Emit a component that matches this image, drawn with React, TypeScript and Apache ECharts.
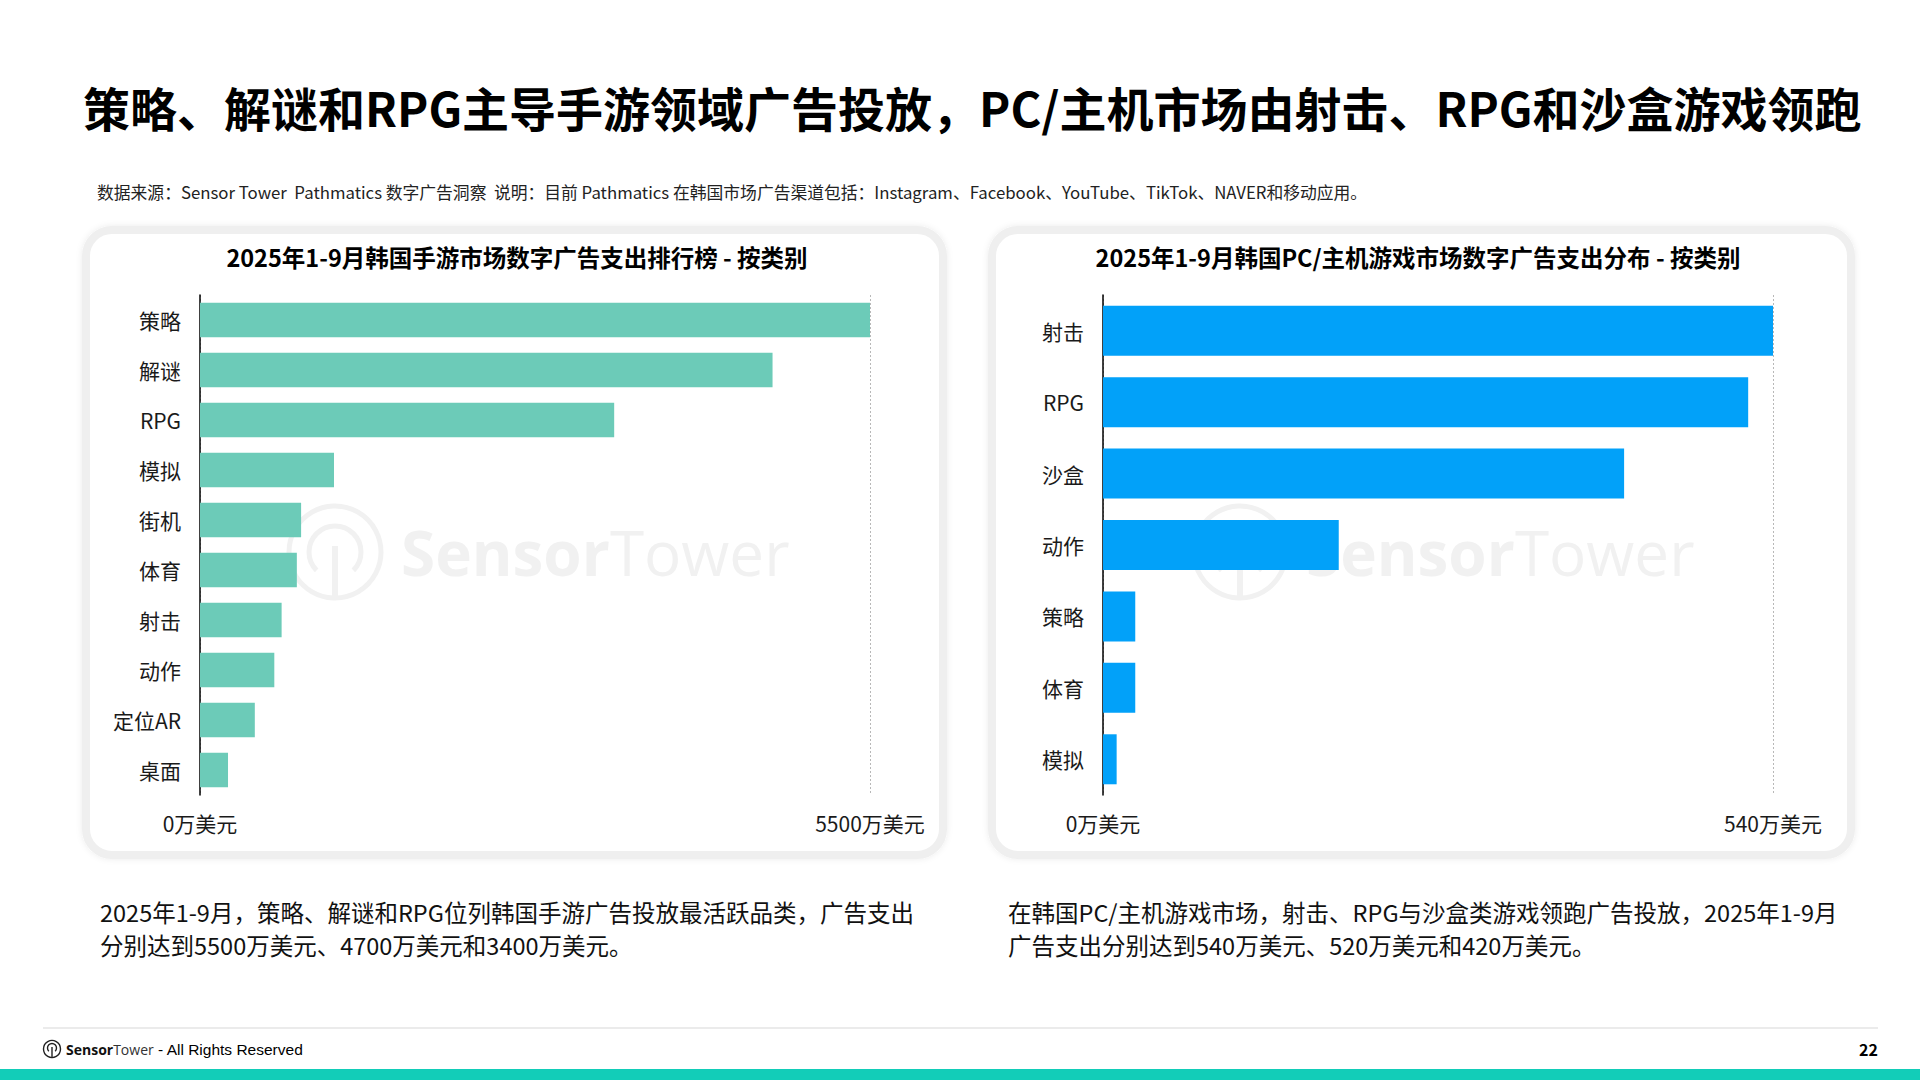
import React, { useEffect, useRef } from 'react';
import * as echarts from 'echarts';

const pageTitle = '策略、解谜和RPG主导手游领域广告投放，PC/主机市场由射击、RPG和沙盒游戏领跑';
const sourceNote = '数据来源：Sensor Tower  Pathmatics 数字广告洞察  说明：目前 Pathmatics 在韩国市场广告渠道包括：Instagram、Facebook、YouTube、TikTok、NAVER和移动应用。';

const mobileTitle = '2025年1-9月韩国手游市场数字广告支出排行榜 - 按类别';
const mobileCategories = ['策略', '解谜', 'RPG', '模拟', '街机', '体育', '射击', '动作', '定位AR', '桌面'];
const mobileValues = [5500, 4700, 3400, 1100, 830, 795, 670, 610, 450, 230];
const mobileMax = 5500;

const pcTitle = '2025年1-9月韩国PC/主机游戏市场数字广告支出分布 - 按类别';
const pcCategories = ['射击', 'RPG', '沙盒', '动作', '策略', '体育', '模拟'];
const pcValues = [540, 520, 420, 190, 26, 26, 11];
const pcMax = 540;

const unit = '万美元';

const mobileNote = [
  '2025年1-9月，策略、解谜和RPG位列韩国手游广告投放最活跃品类，广告支出',
  '分别达到5500万美元、4700万美元和3400万美元。',
];
const pcNote = [
  '在韩国PC/主机游戏市场，射击、RPG与沙盒类游戏领跑广告投放，2025年1-9月',
  '广告支出分别达到540万美元、520万美元和420万美元。',
];

const FONT = '"Noto Sans CJK SC", "Noto Sans", sans-serif';

function panel(x: number, w: number) {
  return {
    type: 'rect',
    z: 0,
    shape: { x, y: 230, width: w, height: 625, r: 26 },
    style: {
      fill: '#ffffff',
      stroke: '#efefef',
      lineWidth: 8,
      shadowBlur: 6,
      shadowColor: 'rgba(0,0,0,0.08)',
    },
  };
}

function watermark(cx: number, cy: number) {
  return [
    {
      type: 'circle',
      z: 1,
      shape: { cx, cy, r: 46 },
      style: { fill: 'none', stroke: '#f1f1f1', lineWidth: 5 },
    },
    {
      type: 'arc',
      z: 1,
      shape: { cx, cy, r: 26, startAngle: Math.PI * 0.75, endAngle: Math.PI * 2.25, clockwise: true },
      style: { fill: 'none', stroke: '#f1f1f1', lineWidth: 5 },
    },
    {
      type: 'line',
      z: 1,
      shape: { x1: cx, y1: cy - 6, x2: cx, y2: cy + 46 },
      style: { stroke: '#f1f1f1', lineWidth: 6 },
    },
    {
      type: 'text',
      z: 1,
      x: cx + 66,
      y: cy,
      style: {
        text: '{a|Sensor}{b|Tower}',
        verticalAlign: 'middle',
        rich: {
          a: { fontFamily: '"Open Sans", sans-serif', fontWeight: 'bold', fontSize: 62, fill: '#f1f1f1', color: '#f1f1f1' },
          b: { fontFamily: '"Open Sans", sans-serif', fontWeight: 'normal', fontSize: 62, fill: '#f1f1f1', color: '#f1f1f1' },
        },
      },
    },
  ];
}

function textEl(x: number, y: number, text: string, size: number, opts: any = {}) {
  return {
    type: 'text',
    z: 10,
    x,
    y,
    style: {
      text,
      fontFamily: FONT,
      fontSize: size,
      fill: opts.fill || '#111',
      fontWeight: opts.bold ? 'bold' : 'normal',
      align: opts.align || 'left',
      verticalAlign: 'middle',
    },
  };
}

function xAxisFor(gridIndex: number, max: number) {
  return {
    type: 'value',
    gridIndex,
    min: 0,
    max,
    interval: max,
    z: 5,
    axisLine: { show: false },
    axisTick: { show: false },
    splitLine: { show: true, lineStyle: { color: '#b8b8b8', type: [2, 2], width: 1 } },
    axisLabel: {
      formatter: (v: number) => v + unit,
      fontFamily: FONT,
      fontSize: 21,
      color: '#1a1a1a',
      margin: 17,
      showMinLabel: true,
      showMaxLabel: true,
    },
  };
}

function yAxisFor(gridIndex: number, data: string[]) {
  return {
    type: 'category',
    gridIndex,
    data,
    inverse: true,
    z: 5,
    axisLine: { show: true, lineStyle: { color: '#000', width: 1.5 } },
    axisTick: { show: false },
    splitLine: { show: false },
    axisLabel: { fontFamily: FONT, fontSize: 21, color: '#1a1a1a', margin: 19 },
  };
}

export default function App() {
  const ref = useRef<HTMLDivElement>(null);
  useEffect(() => {
    if (!ref.current) return;
    const chart = echarts.init(ref.current, undefined, { renderer: 'svg' });
    const graphics: any[] = [
      panel(86, 857),
      panel(992, 859),
      ...watermark(335, 552),
      ...watermark(1240, 552),
      textEl(83, 106, pageTitle, 47, { bold: true, fill: '#000' }),
      textEl(97, 192, sourceNote, 16.8, { fill: '#222' }),
      textEl(517, 257, mobileTitle, 23.5, { bold: true, align: 'center', fill: '#000' }),
      textEl(1418, 257, pcTitle, 23.5, { bold: true, align: 'center', fill: '#000' }),
      textEl(100, 912, mobileNote[0], 23.5, { fill: '#111' }),
      textEl(100, 945, mobileNote[1], 23.5, { fill: '#111' }),
      textEl(1008, 912, pcNote[0], 23.5, { fill: '#111' }),
      textEl(1008, 945, pcNote[1], 23.5, { fill: '#111' }),
      {
        type: 'line',
        z: 10,
        shape: { x1: 43, y1: 1028, x2: 1878, y2: 1028 },
        style: { stroke: '#ebebeb', lineWidth: 2 },
      },
      {
        type: 'circle',
        z: 10,
        shape: { cx: 52, cy: 1049, r: 8.5 },
        style: { fill: 'none', stroke: '#222', lineWidth: 1.4 },
      },
      {
        type: 'arc',
        z: 10,
        shape: { cx: 52, cy: 1048, r: 4.5, startAngle: Math.PI * 0.75, endAngle: Math.PI * 2.25, clockwise: true },
        style: { fill: 'none', stroke: '#222', lineWidth: 1.4 },
      },
      {
        type: 'line',
        z: 10,
        shape: { x1: 52, y1: 1047, x2: 52, y2: 1057 },
        style: { stroke: '#222', lineWidth: 1.4 },
      },
      {
        type: 'text',
        z: 10,
        x: 66,
        y: 1049,
        style: {
          text: '{a|Sensor}{b|Tower}{c| - All Rights Reserved}',
          verticalAlign: 'middle',
          rich: {
            a: { fontFamily: '"Open Sans", sans-serif', fontWeight: 'bold', fontSize: 14, fill: '#111', color: '#111' },
            b: { fontFamily: '"Open Sans", sans-serif', fontSize: 14, fill: '#333', color: '#333' },
            c: { fontFamily: '"Liberation Sans", Arial, sans-serif', fontSize: 15.5, fill: '#000', color: '#000' },
          },
        },
      },
      textEl(1878, 1049, '22', 16, { bold: true, align: 'right', fill: '#000' }),
      {
        type: 'rect',
        z: 10,
        shape: { x: 0, y: 1069, width: 1920, height: 11 },
        style: { fill: '#12cdb8' },
      },
    ];

    chart.setOption({
      animation: false,
      backgroundColor: '#ffffff',
      grid: [
        { left: 200, top: 295, width: 670, height: 500, containLabel: false },
        { left: 1103, top: 295, width: 670, height: 500, containLabel: false },
      ],
      xAxis: [xAxisFor(0, mobileMax), xAxisFor(1, pcMax)],
      yAxis: [yAxisFor(0, mobileCategories), yAxisFor(1, pcCategories)],
      series: [
        {
          type: 'bar',
          xAxisIndex: 0,
          yAxisIndex: 0,
          z: 6,
          data: mobileValues,
          barCategoryGap: '31%',
          itemStyle: { color: '#6ccbb8' },
        },
        {
          type: 'bar',
          xAxisIndex: 1,
          yAxisIndex: 1,
          z: 6,
          data: pcValues,
          barCategoryGap: '30%',
          itemStyle: { color: '#02a1f9' },
        },
      ],
      graphic: graphics,
    });
    return () => chart.dispose();
  }, []);
  return (
    <div
      ref={ref}
      style={{ position: 'fixed', left: 0, top: 0, width: 1920, height: 1080, background: '#fff' }}
    />
  );
}
